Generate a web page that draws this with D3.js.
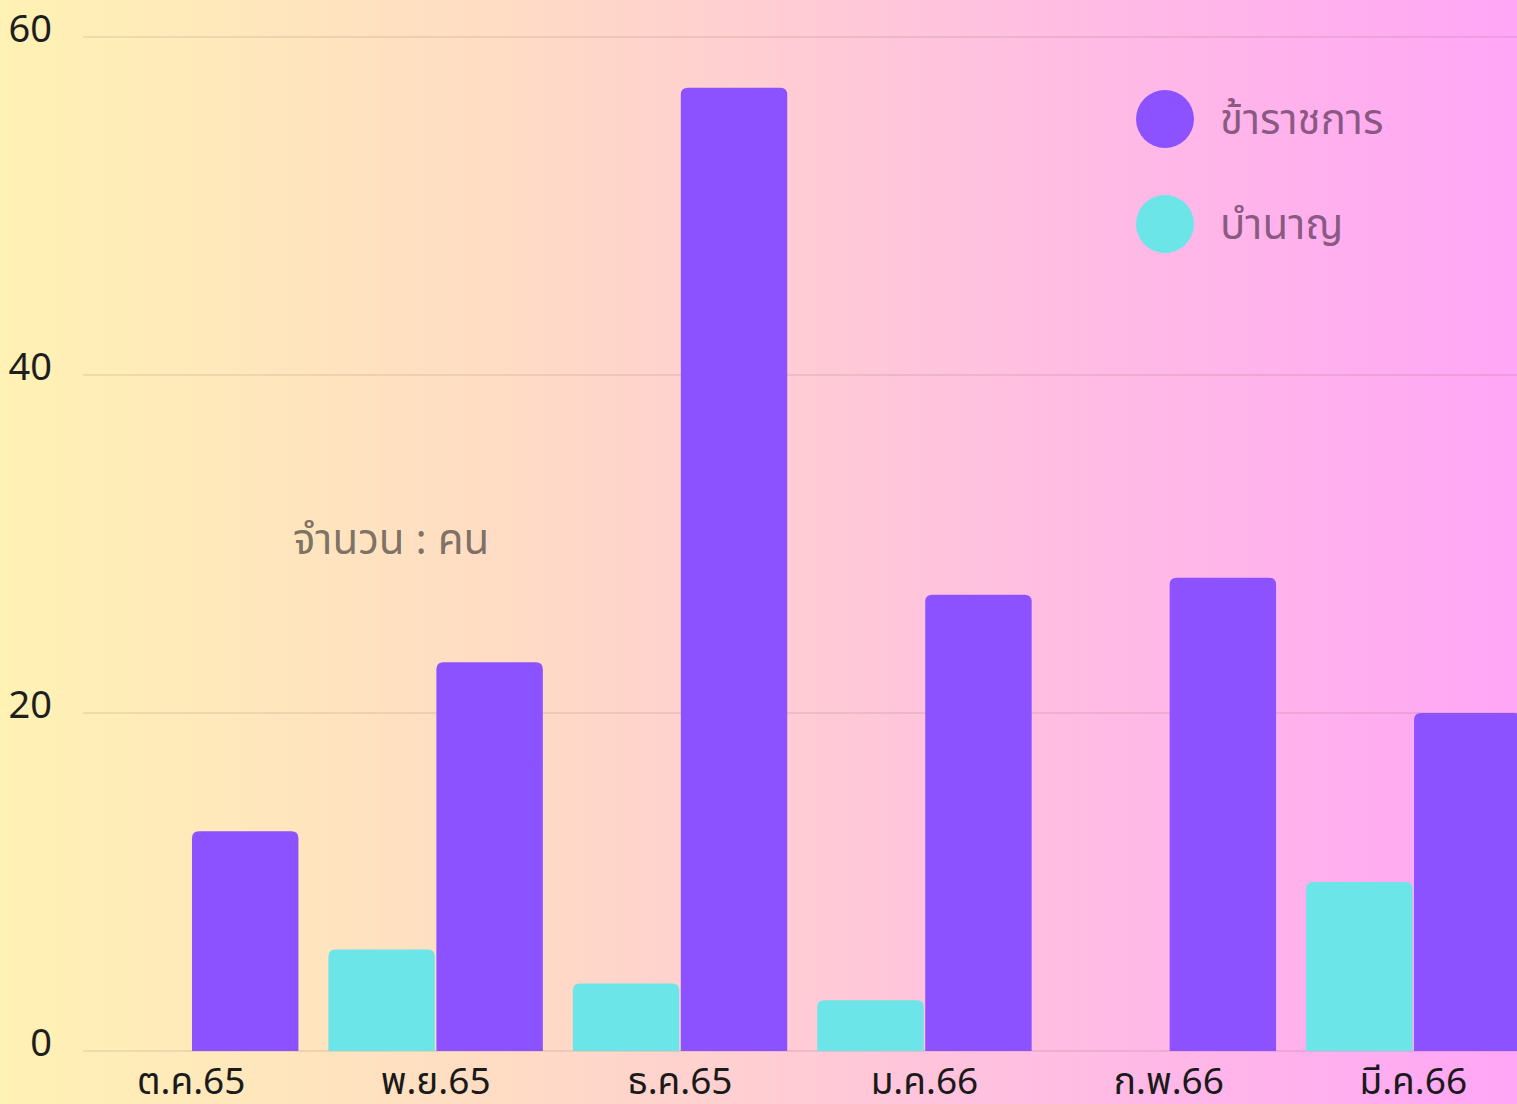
<!DOCTYPE html>
<html>
<head>
<meta charset="utf-8">
<script src="https://cdn.jsdelivr.net/npm/d3@7"></script>
<style>
  html, body { margin: 0; padding: 0; overflow: hidden; }
  svg { display: block; font-family: "Noto Sans", "Noto Sans Thai", sans-serif; }
</style>
</head>
<body>
<svg id="chart" width="1517" height="1104"></svg>
<script>
var months = ['ต.ค.65', 'พ.ย.65', 'ธ.ค.65', 'ม.ค.66', 'ก.พ.66', 'มี.ค.66'];
var seriesNames = ['บำนาญ', 'ข้าราชการ'];
var civilServants = [13, 23, 57, 27, 28, 20];   // ข้าราชการ
var pensioners = [0, 6, 4, 3, 0, 10];          // บำนาญ
var yTicks = [0, 20, 40, 60];
var unitLabel = 'จำนวน : คน';

var colors = { 'ข้าราชการ': '#8c52ff', 'บำนาญ': '#6ce5e8' };

var width = 1517, height = 1104;
var margin = { top: 37, left: 84, bottom: 53 };

var svg = d3.select('#chart');

// background gradient
var grad = svg.append('defs').append('linearGradient')
    .attr('id', 'bg').attr('x1', '0%').attr('x2', '100%').attr('y1', '0%').attr('y2', '0%');
[['0%', '#fff2b4'], ['33%', '#ffdcc4'], ['66%', '#ffc0e0'], ['100%', '#ffa6f6']].forEach(function(s){
    grad.append('stop').attr('offset', s[0]).attr('stop-color', s[1]);
});
svg.append('rect').attr('width', width).attr('height', height).attr('fill', 'url(#bg)');

var data = months.map(function(m, i){
    return { month: m, values: { 'ข้าราชการ': civilServants[i], 'บำนาญ': pensioners[i] } };
});

var y = d3.scaleLinear().domain([0, 60]).range([height - margin.bottom, margin.top]);

var x0 = d3.scaleBand().domain(months)
    .range([margin.left, margin.left + 1436.5])
    .paddingInner(0.1227).paddingOuter(0);

var x1 = d3.scaleBand().domain(seriesNames)
    .range([0, x0.bandwidth()])
    .paddingInner(0.014);

// gridlines
svg.append('g').selectAll('line').data(yTicks).enter().append('line')
    .attr('x1', margin.left - 1).attr('x2', width)
    .attr('y1', function(d){ return y(d); }).attr('y2', function(d){ return y(d); })
    .attr('stroke', 'rgba(120,90,80,0.13)').attr('stroke-width', 2);

// y labels
svg.append('g').selectAll('text').data(yTicks).enter().append('text')
    .attr('x', 52).attr('y', function(d){ return y(d) + 5; })
    .attr('text-anchor', 'end')
    .attr('font-size', 38).attr('fill', '#1e1e1e')
    .text(function(d){ return d; });

// rounded-top bar path
function barPath(x, yTop, w, h, r) {
    r = Math.min(r, h, w / 2);
    return 'M' + x + ',' + (yTop + h) +
        'V' + (yTop + r) +
        'Q' + x + ',' + yTop + ' ' + (x + r) + ',' + yTop +
        'H' + (x + w - r) +
        'Q' + (x + w) + ',' + yTop + ' ' + (x + w) + ',' + (yTop + r) +
        'V' + (yTop + h) + 'Z';
}

var groups = svg.append('g').selectAll('g').data(data).enter().append('g')
    .attr('transform', function(d){ return 'translate(' + x0(d.month) + ',0)'; });

groups.selectAll('path')
    .data(function(d){
        return seriesNames.map(function(s){ return { key: s, value: d.values[s] }; })
            .filter(function(v){ return v.value > 0; });
    })
    .enter().append('path')
    .attr('d', function(d){
        var top = y(d.value);
        return barPath(x1(d.key), top, x1.bandwidth(), y(0) - top, 7);
    })
    .attr('fill', function(d){ return colors[d.key]; });

// x labels
svg.append('g').selectAll('text').data(months).enter().append('text')
    .attr('x', function(d){ return x0(d) + x0.bandwidth() / 2; })
    .attr('y', 1094)
    .attr('text-anchor', 'middle')
    .attr('font-size', 37).attr('fill', '#1a1a1a')
    .text(function(d){ return d; });

// unit label
svg.append('text')
    .attr('x', 293).attr('y', 554)
    .attr('font-size', 42).attr('fill', 'rgba(40,40,40,0.62)')
    .text(unitLabel);

// legend
var legendItems = ['ข้าราชการ', 'บำนาญ'];
var legend = svg.append('g').selectAll('g').data(legendItems).enter().append('g')
    .attr('transform', function(d, i){ return 'translate(1165,' + (119 + i * 105) + ')'; });
legend.append('circle').attr('r', 29).attr('fill', function(d){ return colors[d]; });
legend.append('text')
    .attr('x', 55).attr('y', 15)
    .attr('font-size', 42).attr('fill', 'rgba(60,30,60,0.62)')
    .text(function(d){ return d; });
</script>
</body>
</html>
